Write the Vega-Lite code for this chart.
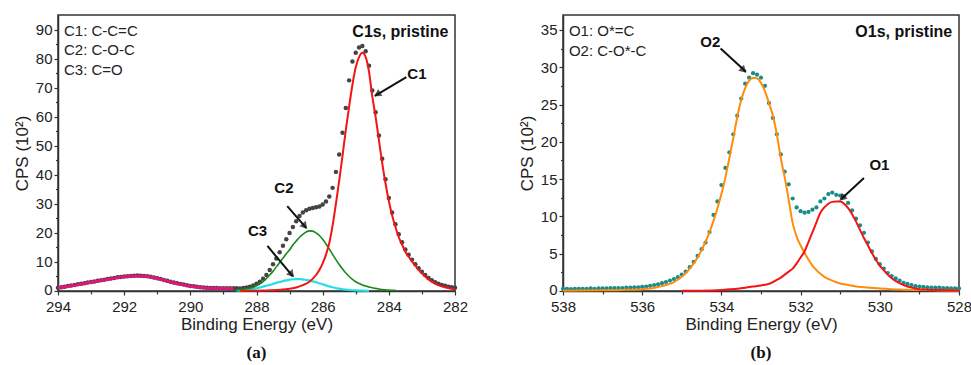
{
"$schema": "https://vega.github.io/schema/vega-lite/v6.json",
"padding": {"left": 12, "top": 14, "right": 0, "bottom": 0},
"spacing": 48,
"config": {
"background": "white",
"view": {"stroke": "#333", "strokeWidth": 1.5},
"axis": {"labelFont": "Liberation Sans", "labelFontSize": 15, "labelColor": "#222", "titleFont": "Liberation Sans", "titleFontSize": 17, "titleFontWeight": "normal", "titleColor": "#222", "domainColor": "#333", "domainWidth": 1.5, "tickColor": "#333", "tickWidth": 1.2, "grid": false, "labelFlush": false, "labelOverlap": false},
"text": {"font": "Liberation Sans"}
},
"datasets": {
"c1s_raw": [
{"E":294.0,"v":1.1},{"E":293.9,"v":1.3},{"E":293.8,"v":1.5},{"E":293.7,"v":1.7},{"E":293.6,"v":1.9},{"E":293.5,"v":2.1},{"E":293.4,"v":2.3},{"E":293.3,"v":2.5},{"E":293.2,"v":2.7},{"E":293.1,"v":2.9},
{"E":293.0,"v":3.1},{"E":292.9,"v":3.3},{"E":292.8,"v":3.5},{"E":292.7,"v":3.7},{"E":292.6,"v":3.9},{"E":292.5,"v":4.1},{"E":292.4,"v":4.3},{"E":292.3,"v":4.5},{"E":292.2,"v":4.7},{"E":292.1,"v":4.85},
{"E":292.0,"v":5.0},{"E":291.9,"v":5.1},{"E":291.8,"v":5.2},{"E":291.7,"v":5.25},{"E":291.6,"v":5.3},{"E":291.5,"v":5.25},{"E":291.4,"v":5.2},{"E":291.3,"v":5.1},{"E":291.2,"v":4.9},{"E":291.1,"v":4.65},
{"E":291.0,"v":4.4},{"E":290.9,"v":4.1},{"E":290.8,"v":3.8},{"E":290.7,"v":3.5},{"E":290.6,"v":3.2},{"E":290.5,"v":2.95},{"E":290.4,"v":2.7},{"E":290.3,"v":2.45},{"E":290.2,"v":2.2},{"E":290.1,"v":1.95},
{"E":290.0,"v":1.75},{"E":289.9,"v":1.6},{"E":289.8,"v":1.45},{"E":289.7,"v":1.3},{"E":289.6,"v":1.2},{"E":289.5,"v":1.1},{"E":289.4,"v":1.05},{"E":289.3,"v":1.0},{"E":289.2,"v":1.0},{"E":289.1,"v":0.95},
{"E":289.0,"v":0.95},{"E":288.9,"v":0.95},{"E":288.8,"v":0.95},{"E":288.7,"v":0.95},{"E":288.6,"v":0.95},{"E":288.5,"v":0.9},{"E":288.4,"v":1.0},{"E":288.3,"v":1.2},{"E":288.2,"v":1.5},{"E":288.1,"v":1.9},
{"E":288.0,"v":2.5},{"E":287.9,"v":3.2},{"E":287.8,"v":4.2},{"E":287.7,"v":5.5},{"E":287.6,"v":7.2},{"E":287.5,"v":9.2},{"E":287.4,"v":11.2},{"E":287.3,"v":13.3},{"E":287.2,"v":15.6},{"E":287.1,"v":17.8},
{"E":287.0,"v":20.0},{"E":286.9,"v":22.0},{"E":286.8,"v":24.0},{"E":286.7,"v":25.8},{"E":286.6,"v":27.0},{"E":286.5,"v":27.8},{"E":286.4,"v":28.3},{"E":286.3,"v":28.6},{"E":286.2,"v":28.8},{"E":286.1,"v":29.1},
{"E":286.0,"v":29.8},{"E":285.9,"v":30.8},{"E":285.8,"v":32.5},{"E":285.7,"v":35.5},{"E":285.6,"v":41.0},{"E":285.5,"v":47.0},{"E":285.4,"v":54.5},{"E":285.3,"v":63.0},{"E":285.2,"v":72.5},{"E":285.1,"v":79.0},
{"E":285.0,"v":82.0},{"E":284.9,"v":83.8},{"E":284.8,"v":84.3},{"E":284.7,"v":82.5},{"E":284.6,"v":77.5},{"E":284.5,"v":69.0},{"E":284.4,"v":61.5},{"E":284.3,"v":53.5},{"E":284.2,"v":45.5},{"E":284.1,"v":38.5},
{"E":284.0,"v":32.0},{"E":283.9,"v":27.0},{"E":283.8,"v":23.0},{"E":283.7,"v":19.5},{"E":283.6,"v":16.8},{"E":283.5,"v":14.3},{"E":283.4,"v":12.5},{"E":283.3,"v":10.8},{"E":283.2,"v":9.2},{"E":283.1,"v":7.8},
{"E":283.0,"v":6.6},{"E":282.9,"v":5.5},{"E":282.8,"v":4.5},{"E":282.7,"v":3.7},{"E":282.6,"v":3.0},{"E":282.5,"v":2.5},{"E":282.4,"v":2.1},{"E":282.3,"v":1.8},{"E":282.2,"v":1.5},{"E":282.1,"v":1.3},
{"E":282.0,"v":1.1}
],
"c1s_bg": [
{"E":294.0,"v":1.0},{"E":293.8,"v":1.4},{"E":293.6,"v":1.8},{"E":293.4,"v":2.2},{"E":293.2,"v":2.6},{"E":293.0,"v":3.0},{"E":292.8,"v":3.4},{"E":292.6,"v":3.8},{"E":292.4,"v":4.2},{"E":292.2,"v":4.6},
{"E":292.0,"v":4.9},{"E":291.8,"v":5.1},{"E":291.6,"v":5.2},{"E":291.4,"v":5.1},{"E":291.2,"v":4.8},{"E":291.0,"v":4.3},{"E":290.8,"v":3.7},{"E":290.6,"v":3.1},{"E":290.4,"v":2.6},{"E":290.2,"v":2.1},
{"E":290.0,"v":1.65},{"E":289.8,"v":1.35},{"E":289.6,"v":1.1},{"E":289.4,"v":0.95},{"E":289.2,"v":0.9},{"E":289.0,"v":0.85},{"E":288.8,"v":0.85},{"E":288.7,"v":0.85}
],
"c1s_c1": [
{"E":288.5,"v":0.05},{"E":288.0,"v":0.1},{"E":287.8,"v":0.15},{"E":287.6,"v":0.25},{"E":287.4,"v":0.35},{"E":287.2,"v":0.5},{"E":287.0,"v":0.8},{"E":286.8,"v":1.2},{"E":286.6,"v":2.0},{"E":286.4,"v":3.2},
{"E":286.2,"v":5.5},{"E":286.1,"v":7.2},{"E":286.0,"v":9.5},{"E":285.9,"v":12.5},{"E":285.8,"v":16.5},{"E":285.7,"v":22.5},{"E":285.6,"v":30},{"E":285.5,"v":38},{"E":285.4,"v":46.5},{"E":285.3,"v":55.5},
{"E":285.2,"v":63.5},{"E":285.1,"v":71},{"E":285.0,"v":77},{"E":284.9,"v":80.5},{"E":284.8,"v":82},{"E":284.7,"v":80.5},{"E":284.6,"v":75.5},{"E":284.5,"v":67},{"E":284.4,"v":60},{"E":284.3,"v":52},
{"E":284.2,"v":44},{"E":284.1,"v":37},{"E":284.0,"v":31},{"E":283.9,"v":26},{"E":283.8,"v":22},{"E":283.7,"v":18.5},{"E":283.6,"v":16},{"E":283.5,"v":13.5},{"E":283.4,"v":11.8},{"E":283.3,"v":10.2},
{"E":283.2,"v":8.7},{"E":283.1,"v":7.3},{"E":283.0,"v":6.1},{"E":282.9,"v":5.0},{"E":282.8,"v":4.0},{"E":282.7,"v":3.2},{"E":282.6,"v":2.5},{"E":282.5,"v":2.0},{"E":282.4,"v":1.6},{"E":282.3,"v":1.3},
{"E":282.2,"v":1.0},{"E":282.1,"v":0.8},{"E":282.0,"v":0.6}
],
"c1s_c2": [
{"E":288.6,"v":0.4},{"E":288.5,"v":0.5},{"E":288.4,"v":0.6},{"E":288.3,"v":0.8},{"E":288.2,"v":1.0},{"E":288.1,"v":1.3},{"E":288.0,"v":1.8},{"E":287.9,"v":2.4},{"E":287.8,"v":3.2},{"E":287.7,"v":4.3},
{"E":287.6,"v":5.5},{"E":287.5,"v":6.8},{"E":287.4,"v":8.3},{"E":287.3,"v":9.8},{"E":287.2,"v":11.3},{"E":287.1,"v":12.8},{"E":287.0,"v":14.2},{"E":286.9,"v":15.8},{"E":286.8,"v":17.2},{"E":286.7,"v":18.5},
{"E":286.6,"v":19.5},{"E":286.5,"v":20.3},{"E":286.4,"v":20.7},{"E":286.3,"v":20.6},{"E":286.2,"v":20.0},{"E":286.1,"v":19.1},{"E":286.0,"v":17.8},{"E":285.9,"v":16.2},{"E":285.8,"v":14.5},{"E":285.7,"v":12.6},
{"E":285.6,"v":10.8},{"E":285.5,"v":9.1},{"E":285.4,"v":7.6},{"E":285.3,"v":6.2},{"E":285.2,"v":5.0},{"E":285.1,"v":4.0},{"E":285.0,"v":3.2},{"E":284.9,"v":2.6},{"E":284.8,"v":2.1},{"E":284.7,"v":1.7},
{"E":284.6,"v":1.4},{"E":284.5,"v":1.1},{"E":284.4,"v":0.9},{"E":284.3,"v":0.7},{"E":284.2,"v":0.5},{"E":284.1,"v":0.4},{"E":284.0,"v":0.3},{"E":283.9,"v":0.25},{"E":283.8,"v":0.2}
],
"c1s_c3": [
{"E":288.6,"v":0.15},{"E":288.5,"v":0.2},{"E":288.4,"v":0.3},{"E":288.3,"v":0.4},{"E":288.2,"v":0.5},{"E":288.1,"v":0.7},{"E":288.0,"v":0.9},{"E":287.9,"v":1.2},{"E":287.8,"v":1.5},{"E":287.7,"v":1.8},
{"E":287.6,"v":2.1},{"E":287.5,"v":2.45},{"E":287.4,"v":2.8},{"E":287.3,"v":3.1},{"E":287.2,"v":3.4},{"E":287.1,"v":3.65},{"E":287.0,"v":3.9},{"E":286.9,"v":4.05},{"E":286.8,"v":4.1},{"E":286.7,"v":4.1},
{"E":286.6,"v":4.0},{"E":286.5,"v":3.8},{"E":286.4,"v":3.6},{"E":286.3,"v":3.3},{"E":286.2,"v":3.0},{"E":286.1,"v":2.65},{"E":286.0,"v":2.3},{"E":285.9,"v":1.95},{"E":285.8,"v":1.6},{"E":285.7,"v":1.3},
{"E":285.6,"v":1.0},{"E":285.5,"v":0.8},{"E":285.4,"v":0.6},{"E":285.3,"v":0.45},{"E":285.2,"v":0.35},{"E":285.0,"v":0.2},{"E":284.8,"v":0.1},{"E":284.6,"v":0.05}
],
"c1s_legend": [
{"E":293.82,"v":89.4,"t":"C1: C-C=C"},{"E":293.82,"v":82.8,"t":"C2: C-O-C"},{"E":293.82,"v":76.0,"t":"C3: C=O"}
],
"c1s_title": [{"E":282.2,"v":89.2,"t":"C1s, pristine"}],
"c1s_labels": [
{"E":283.15,"v":74.7,"t":"C1"},{"E":287.17,"v":35.3,"t":"C2"},{"E":287.97,"v":20.6,"t":"C3"}
],
"c1s_arrows": [
{"E":283.47,"v":73.6,"E2":284.42,"v2":67.2,"t":"C1"},
{"E":287.07,"v":29.2,"E2":286.5,"v2":21.7,"t":"C2"},
{"E":287.67,"v":15.5,"E2":286.9,"v2":5.0,"t":"C3"}
],
"c1s_heads": [
{"E":284.32,"v":67.9,"t":"C1"},{"E":286.56,"v":22.6,"t":"C2"},{"E":286.96,"v":6.0,"t":"C3"}
],
"o1s_raw": [
{"E":538.0,"v":0.3},{"E":537.9,"v":0.3},{"E":537.8,"v":0.25},{"E":537.7,"v":0.3},{"E":537.6,"v":0.3},{"E":537.5,"v":0.3},{"E":537.4,"v":0.3},{"E":537.3,"v":0.35},{"E":537.2,"v":0.3},{"E":537.1,"v":0.35},
{"E":537.0,"v":0.35},{"E":536.9,"v":0.35},{"E":536.8,"v":0.4},{"E":536.7,"v":0.4},{"E":536.6,"v":0.4},{"E":536.5,"v":0.4},{"E":536.4,"v":0.45},{"E":536.3,"v":0.45},{"E":536.2,"v":0.5},{"E":536.1,"v":0.5},
{"E":536.0,"v":0.55},{"E":535.9,"v":0.6},{"E":535.8,"v":0.7},{"E":535.7,"v":0.8},{"E":535.6,"v":0.9},{"E":535.5,"v":1.05},{"E":535.4,"v":1.2},{"E":535.3,"v":1.4},{"E":535.2,"v":1.6},{"E":535.1,"v":1.85},
{"E":535.0,"v":2.2},{"E":534.9,"v":2.6},{"E":534.8,"v":3.2},{"E":534.7,"v":3.9},{"E":534.6,"v":4.7},{"E":534.5,"v":5.6},{"E":534.4,"v":6.5},{"E":534.3,"v":7.9},{"E":534.2,"v":10.2},{"E":534.1,"v":12.0},
{"E":534.0,"v":14.2},{"E":533.9,"v":16.5},{"E":533.8,"v":18.6},{"E":533.7,"v":21.0},{"E":533.6,"v":23.5},{"E":533.5,"v":25.8},{"E":533.4,"v":27.8},{"E":533.3,"v":28.6},{"E":533.2,"v":29.2},{"E":533.1,"v":29.0},
{"E":533.0,"v":28.6},{"E":532.9,"v":27.5},{"E":532.8,"v":25.2},{"E":532.7,"v":23.2},{"E":532.6,"v":21.0},{"E":532.5,"v":18.3},{"E":532.4,"v":16.0},{"E":532.3,"v":14.3},{"E":532.2,"v":12.4},{"E":532.1,"v":11.2},
{"E":532.0,"v":10.7},{"E":531.9,"v":10.5},{"E":531.8,"v":10.6},{"E":531.7,"v":10.9},{"E":531.6,"v":11.2},{"E":531.5,"v":12.0},{"E":531.4,"v":12.4},{"E":531.3,"v":13.0},{"E":531.2,"v":13.2},{"E":531.1,"v":12.9},
{"E":531.0,"v":12.8},{"E":530.9,"v":12.7},{"E":530.8,"v":11.8},{"E":530.7,"v":10.8},{"E":530.6,"v":9.7},{"E":530.5,"v":8.8},{"E":530.4,"v":7.8},{"E":530.3,"v":6.5},{"E":530.2,"v":5.3},{"E":530.1,"v":4.3},
{"E":530.0,"v":3.6},{"E":529.9,"v":3.0},{"E":529.8,"v":2.4},{"E":529.7,"v":2.0},{"E":529.6,"v":1.7},{"E":529.5,"v":1.4},{"E":529.4,"v":1.1},{"E":529.3,"v":0.95},{"E":529.2,"v":0.8},{"E":529.1,"v":0.65},
{"E":529.0,"v":0.6},{"E":528.9,"v":0.55},{"E":528.8,"v":0.5},{"E":528.7,"v":0.45},{"E":528.6,"v":0.45},{"E":528.5,"v":0.45},{"E":528.4,"v":0.4},{"E":528.3,"v":0.4},{"E":528.2,"v":0.35},{"E":528.1,"v":0.35},
{"E":528.0,"v":0.35}
],
"o1s_o2": [
{"E":538.0,"v":0.05},{"E":537.5,"v":0.07},{"E":537.0,"v":0.1},{"E":536.5,"v":0.14},{"E":536.0,"v":0.25},{"E":535.8,"v":0.35},{"E":535.6,"v":0.55},{"E":535.4,"v":0.8},{"E":535.2,"v":1.2},{"E":535.0,"v":1.9},
{"E":534.9,"v":2.4},{"E":534.8,"v":3.0},{"E":534.7,"v":3.7},{"E":534.6,"v":4.5},{"E":534.5,"v":5.5},{"E":534.4,"v":6.6},{"E":534.3,"v":7.9},{"E":534.2,"v":9.4},{"E":534.1,"v":11.1},{"E":534.0,"v":13.0},
{"E":533.9,"v":15.2},{"E":533.8,"v":17.8},{"E":533.7,"v":20.5},{"E":533.6,"v":23.3},{"E":533.5,"v":25.6},{"E":533.4,"v":27.2},{"E":533.3,"v":28.2},{"E":533.2,"v":28.6},{"E":533.1,"v":28.5},{"E":533.0,"v":27.9},
{"E":532.9,"v":26.8},{"E":532.8,"v":25.2},{"E":532.7,"v":23.5},{"E":532.6,"v":21.0},{"E":532.5,"v":17.8},{"E":532.4,"v":15.2},{"E":532.3,"v":12.2},{"E":532.2,"v":9.1},{"E":532.1,"v":7.3},{"E":532.0,"v":6.1},
{"E":531.9,"v":5.1},{"E":531.8,"v":4.2},{"E":531.7,"v":3.4},{"E":531.6,"v":2.8},{"E":531.5,"v":2.3},{"E":531.4,"v":1.9},{"E":531.2,"v":1.4},{"E":531.0,"v":1.0},{"E":530.8,"v":0.8},{"E":530.6,"v":0.6},
{"E":530.4,"v":0.5},{"E":530.0,"v":0.35},{"E":529.5,"v":0.2},{"E":529.0,"v":0.12},{"E":528.5,"v":0.08},{"E":528.0,"v":0.05}
],
"o1s_o1": [
{"E":535.0,"v":0.02},{"E":534.5,"v":0.05},{"E":534.0,"v":0.15},{"E":533.8,"v":0.22},{"E":533.6,"v":0.3},{"E":533.4,"v":0.45},{"E":533.2,"v":0.6},{"E":533.0,"v":0.75},{"E":532.8,"v":0.95},{"E":532.7,"v":1.2},
{"E":532.6,"v":1.5},{"E":532.5,"v":1.8},{"E":532.4,"v":2.2},{"E":532.3,"v":2.6},{"E":532.2,"v":3.0},{"E":532.1,"v":3.7},{"E":532.0,"v":4.5},{"E":531.9,"v":5.3},{"E":531.8,"v":6.6},{"E":531.7,"v":7.9},
{"E":531.6,"v":9.2},{"E":531.5,"v":10.5},{"E":531.4,"v":11.2},{"E":531.3,"v":11.7},{"E":531.2,"v":11.95},{"E":531.1,"v":12.0},{"E":531.0,"v":12.0},{"E":530.9,"v":11.7},{"E":530.8,"v":11.1},{"E":530.7,"v":10.3},
{"E":530.6,"v":9.3},{"E":530.5,"v":8.2},{"E":530.4,"v":7.1},{"E":530.3,"v":6.1},{"E":530.2,"v":5.1},{"E":530.1,"v":4.2},{"E":530.0,"v":3.4},{"E":529.9,"v":2.8},{"E":529.8,"v":2.2},{"E":529.7,"v":1.7},
{"E":529.6,"v":1.35},{"E":529.5,"v":1.05},{"E":529.4,"v":0.8},{"E":529.3,"v":0.6},{"E":529.2,"v":0.45},{"E":529.0,"v":0.25},{"E":528.8,"v":0.18},{"E":528.5,"v":0.12},{"E":528.0,"v":0.08}
],
"o1s_legend": [
{"E":537.85,"v":34.9,"t":"O1: O*=C"},{"E":537.85,"v":32.2,"t":"O2: C-O*-C"}
],
"o1s_title": [{"E":528.17,"v":34.7,"t":"O1s, pristine"}],
"o1s_labels": [
{"E":534.28,"v":33.4,"t":"O2"},{"E":530.01,"v":16.9,"t":"O1"}
],
"o1s_arrows": [
{"E":534.02,"v":32.5,"E2":533.38,"v2":29.4,"t":"O2"},
{"E":530.4,"v":15.15,"E2":530.98,"v2":12.3,"t":"O1"}
],
"o1s_heads": [
{"E":533.46,"v":29.7,"t":"O2"},{"E":530.93,"v":12.55,"t":"O1"}
]
},
"hconcat": [
{
"width": 397, "height": 276,
"title": {"text": "(a)", "orient": "bottom", "font": "Liberation Serif", "fontSize": 17, "fontWeight": "bold", "color": "#111", "offset": 13},
"encoding": {
"x": {"field": "E", "type": "quantitative", "title": "Binding Energy (eV)",
"scale": {"domain": [282, 294], "reverse": true, "nice": false, "zero": false},
"axis": {"values": [282,283,284,285,286,287,288,289,290,291,292,293,294], "labelExpr": "datum.value % 2 === 0 ? datum.label : ''", "tickSize": {"condition": {"test": "datum.value % 2 === 0", "value": 4}, "value": 3}, "labelPadding": 4, "titlePadding": 2}},
"y": {"field": "v", "type": "quantitative", "title": "CPS (10²)",
"scale": {"domain": [0, 95], "nice": false, "zero": false},
"axis": {"values": [0,5,10,15,20,25,30,35,40,45,50,55,60,65,70,75,80,85,90], "labelExpr": "datum.value % 10 === 0 ? datum.label : ''", "labelOffset": {"condition": {"test": "datum.value === 0", "value": -2}, "value": 0}, "tickSize": {"condition": {"test": "datum.value % 10 === 0", "value": 4}, "value": 2.5}, "labelPadding": 2, "titlePadding": 4}}
},
"layer": [
{"data": {"name": "c1s_raw"}, "mark": {"type": "point", "filled": true, "size": 20, "color": "#444444", "opacity": 1}},
{"data": {"name": "c1s_bg"}, "mark": {"type": "line", "color": "#e0157a", "strokeWidth": 3, "interpolate": "monotone"}},
{"data": {"name": "c1s_c3"}, "mark": {"type": "line", "color": "#1fe0e8", "strokeWidth": 2.2, "interpolate": "monotone"}},
{"data": {"name": "c1s_c2"}, "mark": {"type": "line", "color": "#168a16", "strokeWidth": 1.6, "interpolate": "monotone"}},
{"data": {"name": "c1s_c1"}, "mark": {"type": "line", "color": "#f41414", "strokeWidth": 2, "interpolate": "monotone"}},
{"data": {"name": "c1s_legend"}, "mark": {"type": "text", "align": "left", "baseline": "middle", "fontSize": 15, "color": "#222"}, "encoding": {"text": {"field": "t"}}},
{"data": {"name": "c1s_title"}, "mark": {"type": "text", "align": "right", "baseline": "middle", "fontSize": 16, "fontWeight": "bold", "color": "#111"}, "encoding": {"text": {"field": "t"}}},
{"data": {"name": "c1s_labels"}, "mark": {"type": "text", "align": "center", "baseline": "middle", "fontSize": 15, "fontWeight": "bold", "color": "#111"}, "encoding": {"text": {"field": "t"}}},
{"data": {"name": "c1s_arrows"}, "mark": {"type": "rule", "color": "#111", "strokeWidth": 2}, "encoding": {"x2": {"field": "E2"}, "y2": {"field": "v2"}}},
{"data": {"name": "c1s_heads"}, "transform": [{"filter": "datum.t === 'C1'"}], "mark": {"type": "point", "shape": "triangle", "filled": true, "size": 70, "color": "#111", "angle": 239.5}},
{"data": {"name": "c1s_heads"}, "transform": [{"filter": "datum.t === 'C2'"}], "mark": {"type": "point", "shape": "triangle", "filled": true, "size": 70, "color": "#111", "angle": 139.4}},
{"data": {"name": "c1s_heads"}, "transform": [{"filter": "datum.t === 'C3'"}], "mark": {"type": "point", "shape": "triangle", "filled": true, "size": 70, "color": "#111", "angle": 139.9}}
]
},
{
"width": 396, "height": 276,
"title": {"text": "(b)", "orient": "bottom", "font": "Liberation Serif", "fontSize": 17, "fontWeight": "bold", "color": "#111", "offset": 13},
"encoding": {
"x": {"field": "E", "type": "quantitative", "title": "Binding Energy (eV)",
"scale": {"domain": [528, 538], "reverse": true, "nice": false, "zero": false},
"axis": {"values": [528,529,530,531,532,533,534,535,536,537,538], "labelExpr": "datum.value % 2 === 0 ? datum.label : ''", "tickSize": {"condition": {"test": "datum.value % 2 === 0", "value": 4}, "value": 3}, "labelPadding": 4, "titlePadding": 2}},
"y": {"field": "v", "type": "quantitative", "title": "CPS (10²)",
"scale": {"domain": [0, 37], "nice": false, "zero": false},
"axis": {"values": [0,2.5,5,7.5,10,12.5,15,17.5,20,22.5,25,27.5,30,32.5,35], "labelExpr": "datum.value % 5 === 0 ? datum.label : ''", "labelOffset": {"condition": {"test": "datum.value === 0", "value": -2}, "value": 0}, "tickSize": {"condition": {"test": "datum.value % 5 === 0", "value": 4}, "value": 2.5}, "labelPadding": 2, "titlePadding": 4}}
},
"layer": [
{"data": {"name": "o1s_raw"}, "mark": {"type": "point", "filled": true, "size": 18, "color": "#1a8c8a", "opacity": 1}},
{"data": {"name": "o1s_o2"}, "mark": {"type": "line", "color": "#ff8c0a", "strokeWidth": 2, "interpolate": "monotone"}},
{"data": {"name": "o1s_o1"}, "mark": {"type": "line", "color": "#f41414", "strokeWidth": 2, "interpolate": "monotone"}},
{"data": {"name": "o1s_legend"}, "mark": {"type": "text", "align": "left", "baseline": "middle", "fontSize": 15, "color": "#222"}, "encoding": {"text": {"field": "t"}}},
{"data": {"name": "o1s_title"}, "mark": {"type": "text", "align": "right", "baseline": "middle", "fontSize": 16, "fontWeight": "bold", "color": "#111"}, "encoding": {"text": {"field": "t"}}},
{"data": {"name": "o1s_labels"}, "mark": {"type": "text", "align": "center", "baseline": "middle", "fontSize": 15, "fontWeight": "bold", "color": "#111"}, "encoding": {"text": {"field": "t"}}},
{"data": {"name": "o1s_arrows"}, "mark": {"type": "rule", "color": "#111", "strokeWidth": 2}, "encoding": {"x2": {"field": "E2"}, "y2": {"field": "v2"}}},
{"data": {"name": "o1s_heads"}, "transform": [{"filter": "datum.t === 'O2'"}], "mark": {"type": "point", "shape": "triangle", "filled": true, "size": 70, "color": "#111", "angle": 133.9}},
{"data": {"name": "o1s_heads"}, "transform": [{"filter": "datum.t === 'O1'"}], "mark": {"type": "point", "shape": "triangle", "filled": true, "size": 70, "color": "#111", "angle": 227}}
]
}
]
}
